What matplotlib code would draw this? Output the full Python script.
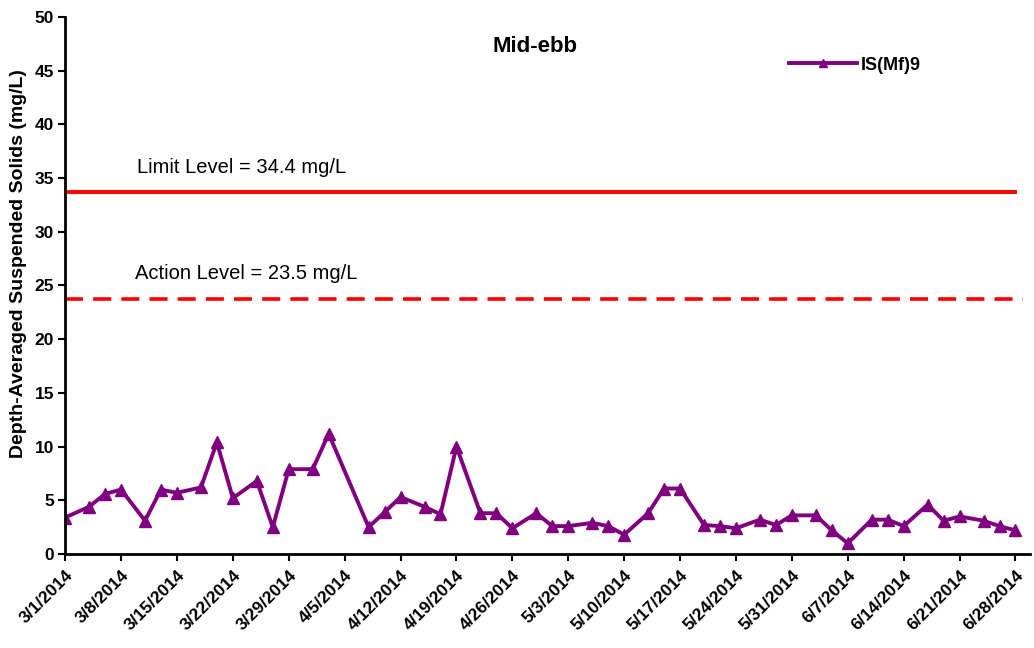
import numpy as np
import pandas as pd
import matplotlib
matplotlib.use("Agg")
import matplotlib.pyplot as plt

plt.rcParams['font.family'] = ['Liberation Sans', 'DejaVu Sans']
plt.rcParams['font.weight'] = 'bold'

# sampling days (offset from 3/1/2014) and depth-averaged SS (mg/L)
day_offsets = [0, 3, 5, 7, 10, 12, 14, 17, 19, 21, 24, 26, 28, 31, 33,
               38, 40, 42, 45, 47, 49, 52, 54, 56, 59, 61, 63, 66, 68, 70,
               73, 75, 77, 80, 82, 84, 87, 89, 91, 94, 96, 98, 101, 103, 105,
               108, 110, 112, 115, 117, 119]
ss_values = [3.4, 4.4, 5.6, 6.0, 3.1, 6.0, 5.7, 6.2, 10.4, 5.2, 6.8, 2.5, 7.9, 7.9, 11.2,
             2.5, 3.9, 5.3, 4.4, 3.7, 10.0, 3.8, 3.8, 2.4, 3.8, 2.6, 2.6, 2.9, 2.6, 1.8,
             3.8, 6.1, 6.1, 2.7, 2.6, 2.4, 3.2, 2.7, 3.6, 3.6, 2.2, 1.0, 3.2, 3.2, 2.6,
             4.6, 3.1, 3.5, 3.1, 2.6, 2.2]
series_name = "IS(Mf)9"

limit_label = "Limit Level = 34.4 mg/L"
action_label = "Action Level = 23.5 mg/L"
limit_y = 33.7
action_y = 23.7

start = pd.Timestamp("2014-03-01")
dates = [start + pd.Timedelta(days=d) for d in day_offsets]
tick_dates = pd.date_range("2014-03-01", "2014-06-28", freq="7D")
tick_labels = [f"{d.month}/{d.day}/{d.year}" for d in tick_dates]

fig = plt.figure(figsize=(10.34, 6.48), dpi=100)
ax = fig.add_axes([0.063, 0.145, 0.933, 0.829])

x_end = start + pd.Timedelta(days=120.8)
ax.plot([start, pd.Timestamp("2014-06-28")], [limit_y, limit_y], color='#ff0000', lw=2.8)
ax.plot([start, pd.Timestamp("2014-06-29")], [action_y, action_y], color='#ff0000', lw=2.6,
        linestyle=(0, (5, 2.8)))
ax.plot(dates, ss_values, color='#800080', lw=2.8, marker='^', markersize=9, label=series_name)

ax.text(0.075, 0.72, limit_label, transform=ax.transAxes, fontsize=14.5, fontweight='normal',
        va='center')
ax.text(0.072, 0.522, action_label, transform=ax.transAxes, fontsize=14.5, fontweight='normal',
        va='center')
ax.text(0.487, 0.944, "Mid-ebb", transform=ax.transAxes, fontsize=16, fontweight='bold',
        ha='center', va='center')

ax.set_xlim(start, x_end)
ax.set_ylim(0, 50)
ax.set_yticks(np.arange(0, 51, 5))
ax.set_xticks(tick_dates)
ax.set_xticklabels(tick_labels, rotation=45, ha='right', rotation_mode='anchor', fontsize=12.5)
ax.tick_params(axis='y', labelsize=12.5, length=5, width=1.5, direction='out', pad=3)
ax.tick_params(axis='x', length=5, width=1.5, direction='out', pad=5)
for s in ['top', 'right']:
    ax.spines[s].set_visible(False)
for s in ['left', 'bottom']:
    ax.spines[s].set_linewidth(2)

ax.set_ylabel("Depth-Averaged Suspended Solids (mg/L)", fontsize=14, fontweight='bold')
ax.yaxis.set_label_coords(-0.04, 0.54)

leg = ax.legend(loc='center left', bbox_to_anchor=(0.733, 0.91), frameon=False, fontsize=13,
                handlelength=3.8, handletextpad=0.2, markerscale=0.6)

fig.savefig("out.png", dpi=100)
